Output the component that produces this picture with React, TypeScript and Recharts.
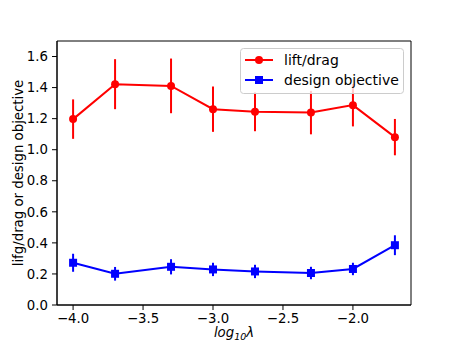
import React from 'react';
import {
  ComposedChart,
  Line,
  ErrorBar,
  XAxis,
  YAxis,
  Label,
  Legend,
  ReferenceArea,
} from 'recharts';

const FONT = '"DejaVu Sans", sans-serif';
const RED = '#ff0000';
const BLUE = '#0000ff';

// log10 lambda
const LOG_LAMBDA = [-4.0, -3.7, -3.3, -3.0, -2.7, -2.3, -2.0, -1.7];
const LIFT_DRAG = [1.197, 1.422, 1.411, 1.261, 1.244, 1.239, 1.287, 1.081];
const LIFT_DRAG_ERR = [0.127, 0.161, 0.176, 0.146, 0.125, 0.14, 0.137, 0.117];
const DESIGN_OBJ = [0.272, 0.201, 0.246, 0.229, 0.216, 0.206, 0.232, 0.385];
const DESIGN_OBJ_ERR = [0.058, 0.044, 0.049, 0.043, 0.043, 0.04, 0.04, 0.064];

const X_TICKS = [-4.0, -3.5, -3.0, -2.5, -2.0];
const Y_TICKS = [0, 0.2, 0.4, 0.6, 0.8, 1.0, 1.2, 1.4, 1.6];
const X_DOMAIN = [-4.115, -1.585];
const Y_DOMAIN = [0, 1.7];

const data = LOG_LAMBDA.map((x, i) => ({
  x,
  liftDrag: LIFT_DRAG[i],
  liftDragErr: LIFT_DRAG_ERR[i],
  design: DESIGN_OBJ[i],
  designErr: DESIGN_OBJ_ERR[i],
}));

const fmt = (v: number) => v.toFixed(1).replace('-', '\u2212');

const CircleDot = (props: any) => {
  const { cx, cy } = props;
  if (cx == null || cy == null) return null;
  return <circle cx={cx} cy={cy} r={4} fill={RED} />;
};

const SquareDot = (props: any) => {
  const { cx, cy } = props;
  if (cx == null || cy == null) return null;
  return <rect x={cx - 4} y={cy - 4} width={8} height={8} fill={BLUE} />;
};

function LegendBox() {
  const rows = [
    { label: 'lift/drag', color: RED, shape: 'circle' },
    { label: 'design objective', color: BLUE, shape: 'square' },
  ];
  return (
    <svg width={164} height={46} style={{ display: 'block' }}>
      <rect x={0.5} y={0.5} width={163} height={45} rx={3} fill="#fff" fillOpacity={0.8} stroke="#cccccc" />
      {rows.map((r, i) => {
        const y = 12 + i * 20;
        return (
          <g key={r.label}>
            <line x1={5} x2={33} y1={y} y2={y} stroke={r.color} strokeWidth={2} />
            {r.shape === 'circle' ? (
              <circle cx={19} cy={y} r={4} fill={r.color} />
            ) : (
              <rect x={15} y={y - 4} width={8} height={8} fill={r.color} />
            )}
            <text x={44} y={y + 5} fontSize={14} fontFamily={FONT} fill="#000">
              {r.label}
            </text>
          </g>
        );
      })}
    </svg>
  );
}

export default function App() {
  return (
    <div style={{ position: 'absolute', left: 0, top: 0, width: 457, height: 343, background: '#fff' }}>
      <ComposedChart
        width={457}
        height={343}
        data={data}
        margin={{ top: 41, right: 46, bottom: 0, left: 0 }}
      >
        <XAxis
          dataKey="x"
          type="number"
          domain={X_DOMAIN}
          ticks={X_TICKS}
          tickFormatter={fmt}
          allowDataOverflow
          height={38}
          stroke="#000"
          tickSize={5}
          tickMargin={4}
          tick={{ fontSize: 13.3, fontFamily: FONT, fill: '#000' }}
        >
          <Label
            content={(props: any) => {
              const vb = props.viewBox;
              return (
                <text
                  x={vb.x + vb.width / 2}
                  y={337}
                  textAnchor="middle"
                  fontSize={13.3}
                  fontFamily={FONT}
                  fontStyle="italic"
                  fill="#000"
                >
                  log
                  <tspan fontSize={9.5} dy={3}>10</tspan>
                  <tspan dy={-3}>λ</tspan>
                </text>
              );
            }}
          />
        </XAxis>
        <YAxis
          type="number"
          domain={Y_DOMAIN}
          ticks={Y_TICKS}
          tickFormatter={fmt}
          allowDataOverflow
          width={57}
          stroke="#000"
          tickSize={5}
          tickMargin={4}
          tick={{ fontSize: 13.3, fontFamily: FONT, fill: '#000' }}
        >
          <Label
            content={(props: any) => {
              const vb = props.viewBox;
              const cy = vb.y + vb.height / 2;
              return (
                <text
                  x={18}
                  y={cy}
                  transform={`rotate(-90, 18, ${cy})`}
                  textAnchor="middle"
                  dominantBaseline="central"
                  fontSize={13.3}
                  fontFamily={FONT}
                  fill="#000"
                >
                  lifg/drag or design objective
                </text>
              );
            }}
          />
        </YAxis>
        <ReferenceArea
          x1={X_DOMAIN[0]}
          x2={X_DOMAIN[1]}
          y1={Y_DOMAIN[0]}
          y2={Y_DOMAIN[1]}
          ifOverflow="visible"
          fill="none"
          fillOpacity={0}
          stroke="#000"
          strokeWidth={1}
          strokeOpacity={1}
        />
        <Line
          dataKey="liftDrag"
          stroke={RED}
          strokeWidth={2}
          dot={<CircleDot />}
          activeDot={false}
          isAnimationActive={false}
        >
          <ErrorBar dataKey="liftDragErr" direction="y" width={0} stroke={RED} strokeWidth={2} isAnimationActive={false} />
        </Line>
        <Line
          dataKey="design"
          stroke={BLUE}
          strokeWidth={2}
          dot={<SquareDot />}
          activeDot={false}
          isAnimationActive={false}
        >
          <ErrorBar dataKey="designErr" direction="y" width={0} stroke={BLUE} strokeWidth={2} isAnimationActive={false} />
        </Line>
        <Legend
          layout="horizontal"
          verticalAlign="middle"
          align="center"
          wrapperStyle={{ position: 'absolute', top: 48, left: 240, width: 164, height: 46 }}
          content={() => <LegendBox />}
        />
      </ComposedChart>
    </div>
  );
}
